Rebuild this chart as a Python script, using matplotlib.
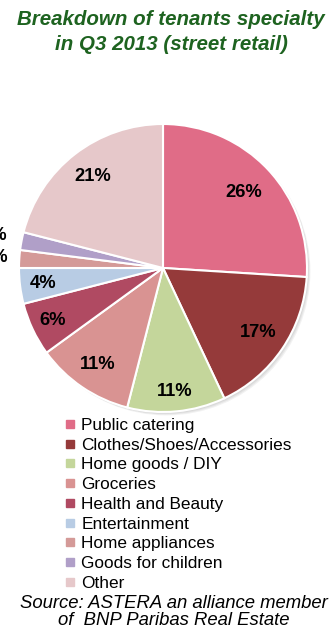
import matplotlib
matplotlib.use("Agg")
import matplotlib.pyplot as plt
import numpy as np
from matplotlib.patches import Circle
from matplotlib.lines import Line2D

categories = ["Public catering", "Clothes/Shoes/Accessories", "Home goods / DIY",
              "Groceries", "Health and Beauty", "Entertainment", "Home appliances",
              "Goods for children", "Other"]
values = [26, 17, 11, 11, 6, 4, 2, 2, 21]
colors = ["#E06C87", "#953A3A", "#C4D69B", "#D99392", "#B04A62", "#B8CCE4",
          "#D49A98", "#B09FC8", "#E6C8CA"]
title = "Breakdown of tenants specialty\nin Q3 2013 (street retail)"
source = "Source: ASTERA an alliance member\nof  BNP Paribas Real Estate"

plt.rcParams['font.family'] = ['Liberation Sans', 'DejaVu Sans']

W, H = 336, 627
dpi = 100
fig = plt.figure(figsize=(W / dpi, H / dpi), dpi=dpi)

cx, cy, R = 163, 268, 144
ax = fig.add_axes([(cx - R) / W, 1 - (cy + R) / H, 2 * R / W, 2 * R / H])

# soft shadow
for i, a in enumerate([0.05, 0.05, 0.05]):
    ax.add_patch(Circle((0.012 + 0.006 * i, -0.012 - 0.006 * i), 1.0, color='black',
                        alpha=a, zorder=0, clip_on=False, lw=0))

wedges, _ = ax.pie(values, colors=colors, startangle=90, counterclock=False,
                   radius=1.0, wedgeprops=dict(edgecolor='white', linewidth=1.5))
for w in wedges:
    w.set_clip_on(False)
ax.set_xlim(-1, 1)
ax.set_ylim(-1, 1)
ax.set_aspect('equal')
ax.axis('off')

dists = [0.77, 0.8, 0.86, 0.81, 0.85, 0.84, 1.17, 1.2, 0.8]
cum = 0
total = sum(values)
for v, d in zip(values, dists):
    mid = 90 - 360 * (cum + v / 2) / total
    cum += v
    x, y = d * np.cos(np.radians(mid)), d * np.sin(np.radians(mid))
    ax.text(x, y, f"{v}%", ha='center', va='center', fontsize=13.2,
            fontweight='bold', color='black', clip_on=False)

fig.text(171 / W, 1 - 32 / H, title, ha='center', va='center', fontsize=14.8,
         fontweight='bold', fontstyle='italic', color='#1E6320', linespacing=1.38)

handles = [Line2D([], [], marker='s', linestyle='none', markersize=5.5,
                  markerfacecolor=c, markeredgecolor=c) for c in colors]
fig.legend(handles, categories, loc='upper left',
           bbox_to_anchor=(65 / W, 1 - 418 / H), frameon=False, fontsize=12.4,
           handlelength=0.6, handletextpad=0.35, labelspacing=0.27,
           borderaxespad=0, borderpad=0)

fig.text(174 / W, 1 - 612 / H, source, ha='center', va='center', fontsize=13.3,
         fontstyle='italic', color='black', linespacing=1.05)

fig.savefig("out.png", dpi=dpi)
